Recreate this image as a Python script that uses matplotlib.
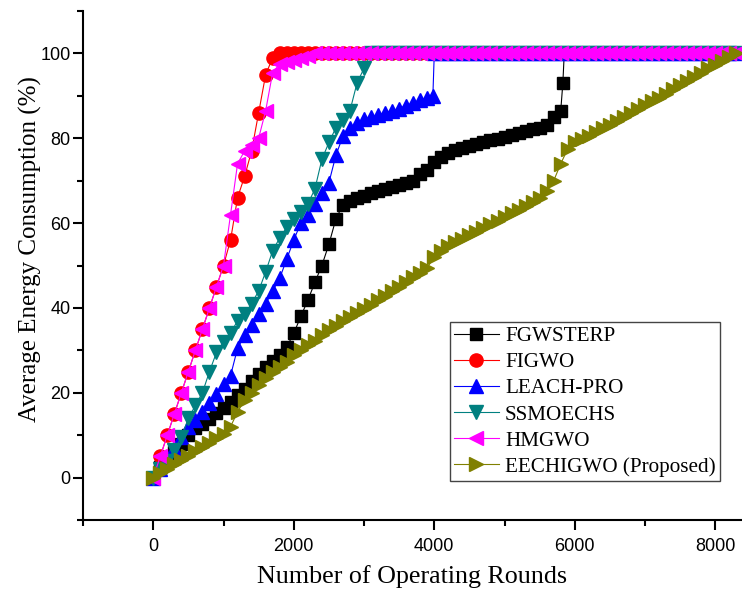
import matplotlib.pyplot as plt
from matplotlib.ticker import MultipleLocator

# operating rounds sampled every 100 rounds (0 .. 8300)
rounds = [
    0, 100, 200, 300, 400, 500, 600, 700, 800, 900,
    1000, 1100, 1200, 1300, 1400, 1500, 1600, 1700, 1800, 1900,
    2000, 2100, 2200, 2300, 2400, 2500, 2600, 2700, 2800, 2900,
    3000, 3100, 3200, 3300, 3400, 3500, 3600, 3700, 3800, 3900,
    4000, 4100, 4200, 4300, 4400, 4500, 4600, 4700, 4800, 4900,
    5000, 5100, 5200, 5300, 5400, 5500, 5600, 5700, 5800, 5900,
    6000, 6100, 6200, 6300, 6400, 6500, 6600, 6700, 6800, 6900,
    7000, 7100, 7200, 7300, 7400, 7500, 7600, 7700, 7800, 7900,
    8000, 8100, 8200, 8300,
]

# LEACH-PRO and FGWSTERP have a sharp jump between two samples
rounds_leach = [
    0, 100, 200, 300, 400, 500, 600, 700, 800, 900,
    1000, 1100, 1200, 1300, 1400, 1500, 1600, 1700, 1800, 1900,
    2000, 2100, 2200, 2300, 2400, 2500, 2600, 2700, 2800, 2900,
    3000, 3100, 3200, 3300, 3400, 3500, 3600, 3700, 3800, 3900, 3980,
    4000, 4100, 4200, 4300, 4400, 4500, 4600, 4700, 4800, 4900,
    5000, 5100, 5200, 5300, 5400, 5500, 5600, 5700, 5800, 5900,
    6000, 6100, 6200, 6300, 6400, 6500, 6600, 6700, 6800, 6900,
    7000, 7100, 7200, 7300, 7400, 7500, 7600, 7700, 7800, 7900,
    8000, 8100, 8200, 8300,
]
rounds_fgw = [
    0, 100, 200, 300, 400, 500, 600, 700, 800, 900,
    1000, 1100, 1200, 1300, 1400, 1500, 1600, 1700, 1800, 1900,
    2000, 2100, 2200, 2300, 2400, 2500, 2600, 2700, 2800, 2900,
    3000, 3100, 3200, 3300, 3400, 3500, 3600, 3700, 3800, 3900,
    4000, 4100, 4200, 4300, 4400, 4500, 4600, 4700, 4800, 4900,
    5000, 5100, 5200, 5300, 5400, 5500, 5600, 5700, 5800, 5830, 5850, 5900,
    6000, 6100, 6200, 6300, 6400, 6500, 6600, 6700, 6800, 6900,
    7000, 7100, 7200, 7300, 7400, 7500, 7600, 7700, 7800, 7900,
    8000, 8100, 8200, 8300,
]

fgwsterp = [
    0, 2.5, 4.5, 6, 8, 10, 11.7, 12.7, 13.8, 15.2,
    16.5, 17.8, 19.5, 21, 22.8, 24.5, 26, 27.5, 29, 30.8,
    34, 38, 41.8, 46, 50, 55, 61, 64.3, 65.3, 66,
    66.5, 67, 67.5, 68, 68.5, 69, 69.5, 70, 71.5, 72.5,
    74.5, 75.5, 76.5, 77.3, 77.8, 78.2, 78.6, 79, 79.5, 79.9,
    80.3, 80.8, 81.2, 81.6, 82.1, 82.5, 83.2, 85, 86.5, 93, 100, 100,
    100, 100, 100, 100, 100, 100, 100, 100, 100, 100,
    100, 100, 100, 100, 100, 100, 100, 100, 100, 100,
    100, 100, 100, 100,
]
figwo = [
    0, 5, 10, 15, 20, 25, 30, 35, 40, 45,
    50, 56, 66, 71, 77, 86, 95, 99, 100, 100,
    100, 100, 100, 100, 100, 100, 100, 100, 100, 100,
    100, 100, 100, 100, 100, 100, 100, 100, 100, 100,
    100, 100, 100, 100, 100, 100, 100, 100, 100, 100,
    100, 100, 100, 100, 100, 100, 100, 100, 100, 100,
    100, 100, 100, 100, 100, 100, 100, 100, 100, 100,
    100, 100, 100, 100, 100, 100, 100, 100, 100, 100,
    100, 100, 100, 100,
]
leach_pro = [
    0, 2, 4.5, 7, 9.5, 12, 13.5, 15.5, 17.5, 19.8,
    22, 24, 30.5, 33.5, 36, 38.5, 41, 44, 47, 51.5,
    56, 60, 62, 64.5, 67, 69.5, 76, 80.5, 82.5, 83.5,
    84.5, 85, 85.5, 86, 86.5, 87, 87.7, 88.3, 89, 89.5, 90,
    100, 100, 100, 100, 100, 100, 100, 100, 100, 100,
    100, 100, 100, 100, 100, 100, 100, 100, 100, 100,
    100, 100, 100, 100, 100, 100, 100, 100, 100, 100,
    100, 100, 100, 100, 100, 100, 100, 100, 100, 100,
    100, 100, 100, 100,
]
ssmoechs = [
    0, 2, 4, 6.5, 9.5, 14, 17, 20, 25, 29.5,
    32, 34, 37, 38.5, 41, 44, 48.5, 53.5, 56.5, 59,
    61, 62.5, 64.5, 68, 75, 79, 82.5, 84.3, 86.5, 93,
    96.5, 100, 100, 100, 100, 100, 100, 100, 100, 100,
    100, 100, 100, 100, 100, 100, 100, 100, 100, 100,
    100, 100, 100, 100, 100, 100, 100, 100, 100, 100,
    100, 100, 100, 100, 100, 100, 100, 100, 100, 100,
    100, 100, 100, 100, 100, 100, 100, 100, 100, 100,
    100, 100, 100, 100,
]
hmgwo = [
    0, 5, 10, 15, 20, 25, 30, 35, 40, 45,
    50, 62, 74, 77, 78.5, 80, 86.5, 95.5, 97.5, 98,
    98.5, 99, 99.5, 100, 100, 100, 100, 100, 100, 100,
    100, 100, 100, 100, 100, 100, 100, 100, 100, 100,
    100, 100, 100, 100, 100, 100, 100, 100, 100, 100,
    100, 100, 100, 100, 100, 100, 100, 100, 100, 100,
    100, 100, 100, 100, 100, 100, 100, 100, 100, 100,
    100, 100, 100, 100, 100, 100, 100, 100, 100, 100,
    100, 100, 100, 100,
]
eechigwo = [
    0, 1, 2.1, 3.1, 4.1, 5.2, 6.2, 7.2, 8.2, 9.3,
    10.3, 12, 15.5, 18.2, 20, 21.8, 23.5, 24.8, 26, 27.3,
    28.8, 30, 31.2, 32.3, 33.5, 34.7, 35.8, 36.8, 37.8, 38.8,
    39.8, 40.8, 41.8, 42.8, 43.9, 45, 46.1, 47.2, 48.3, 49.5,
    52, 53.5, 54.5, 55.5, 56.3, 57.2, 58, 58.9, 59.8, 60.6,
    61.5, 62.3, 63.2, 64, 65, 66, 67.5, 70, 74, 77.5,
    79, 79.8, 80.6, 81.5, 82.3, 83.2, 84.1, 85, 86, 87,
    87.8, 88.7, 89.6, 90.5, 91.5, 92.5, 93.5, 94.5, 95.5, 96.5,
    97.3, 98.2, 99.1, 100,
]

plt.rcParams['font.family'] = 'Liberation Sans'

fig = plt.figure(figsize=(7.42, 5.9), dpi=100)
ax = fig.add_axes([83 / 742, 70 / 590, 659 / 742, 509 / 590])

series = [
    ('FGWSTERP', rounds_fgw, fgwsterp, 'black', 's', 9),
    ('FIGWO', rounds, figwo, '#ff0000', 'o', 9.5),
    ('LEACH-PRO', rounds_leach, leach_pro, '#0000ff', '^', 10),
    ('SSMOECHS', rounds, ssmoechs, '#008080', 'v', 10),
    ('HMGWO', rounds, hmgwo, '#ff00ff', '<', 10),
    ('EECHIGWO (Proposed)', rounds, eechigwo, '#808000', '>', 10),
]
for label, x, y, color, marker, ms in series:
    ax.plot(x, y, color=color, lw=0.8, marker=marker, ms=ms,
            mfc=color, mec=color, label=label)

ax.set_xlim(-1000, 8380)
ax.set_ylim(-10, 110)
ax.xaxis.set_major_locator(MultipleLocator(2000))
ax.xaxis.set_minor_locator(MultipleLocator(1000))
ax.yaxis.set_major_locator(MultipleLocator(20))
ax.yaxis.set_minor_locator(MultipleLocator(10))

for side in ['top', 'right']:
    ax.spines[side].set_visible(False)
for side in ['left', 'bottom']:
    ax.spines[side].set_linewidth(1.5)

ax.tick_params(which='major', direction='out', length=7, width=1.5,
               labelsize=13, pad=2)
ax.tick_params(which='minor', direction='out', length=4, width=1.5)
ax.tick_params(axis='x', pad=6)

ax.set_xlabel('Number of Operating Rounds', fontsize=18.7,
              fontfamily='Liberation Serif', labelpad=7)
ax.set_ylabel('Average Energy Consumption (%)', fontsize=18,
              fontfamily='Liberation Serif')
ax.yaxis.set_label_coords(-0.062, 0.532)

leg = ax.legend(loc='lower left', bbox_to_anchor=(0.557, 0.0766),
                prop={'family': 'Liberation Serif', 'size': 15.2},
                fancybox=False, edgecolor='#444444', framealpha=1,
                borderpad=0.2, labelspacing=0.3, handlelength=2.1,
                handletextpad=0.3, borderaxespad=0)
leg.get_frame().set_linewidth(1.0)

fig.savefig('out.png', dpi=100)
